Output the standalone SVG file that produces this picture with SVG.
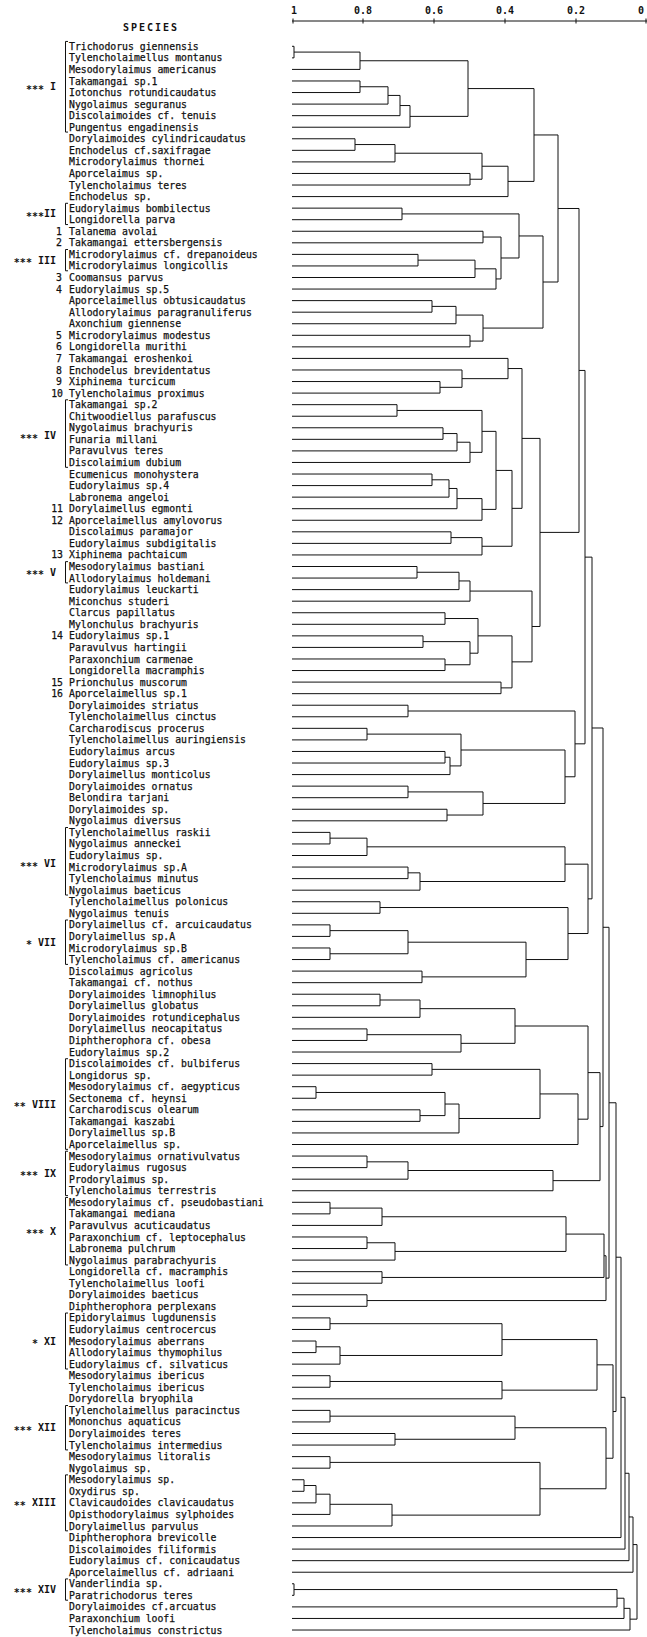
<svg xmlns="http://www.w3.org/2000/svg" width="647" height="1637" viewBox="0 0 647 1637">
<style>
.sp text{font-family:"DejaVu Sans Mono","Liberation Mono",monospace;font-size:9.8px;fill:#111;stroke:#111;stroke-width:0.25px}
.num{font-family:"Liberation Serif",serif;font-size:11px;fill:#111;text-anchor:end}
.grp text{font-family:"DejaVu Sans Mono","Liberation Mono",monospace;font-weight:bold;font-size:10px;fill:#111;text-anchor:end}
.br{fill:none;stroke:#111;stroke-width:1;vector-effect:non-scaling-stroke}
.ax{font-family:"DejaVu Sans Mono","Liberation Mono",monospace;font-weight:bold;font-size:10px;fill:#111;text-anchor:middle}
#connectors path{fill:none;stroke:#111;stroke-width:1;vector-effect:non-scaling-stroke}
</style>
<rect width="647" height="1637" fill="#fff"/>
<g id="axis">
<text x="151" y="31" class="ax" font-size="12" letter-spacing="2">SPECIES</text>
<text class="ax" x="294" y="14">1</text>
<text class="ax" x="363" y="14">0.8</text>
<text class="ax" x="434" y="14">0.6</text>
<text class="ax" x="505" y="14">0.4</text>
<text class="ax" x="576" y="14">0.2</text>
<text class="ax" x="641" y="14">0</text>
<path d="M292 21H647M293 18.5V23.5M363 18.5V23.5M434 18.5V23.5M505 18.5V23.5M576 18.5V23.5M646 18.5V23.5" stroke="#111" stroke-width="1" fill="none"/>
</g>
<g id="groups">
<g id="gI" class="grp"><text x="56" y="90.3"><tspan dy="2.5">***</tspan><tspan dy="-2.5"> I</tspan></text><path class="br" transform="matrix(1 0 0 11.56 0 34.74)" d="M68 0.58H65.5V8.42H68"/></g>
<g id="gII" class="grp"><text x="56" y="217.4"><tspan dy="2.5">***</tspan><tspan dy="-2.5">II</tspan></text><path class="br" transform="matrix(1 0 0 11.56 0 34.74)" d="M68 14.58H65.5V16.42H68"/></g>
<g id="gIII" class="grp"><text x="56" y="263.7"><tspan dy="2.5">***</tspan><tspan dy="-2.5"> III</tspan></text><path class="br" transform="matrix(1 0 0 11.56 0 34.74)" d="M68 18.58H65.5V20.42H68"/></g>
<g id="gIV" class="grp"><text x="56" y="439.4"><tspan dy="2.5">***</tspan><tspan dy="-2.5"> IV</tspan></text><path class="br" transform="matrix(1 0 0 11.56 0 34.74)" d="M68 31.58H65.5V37.42H68"/></g>
<g id="gV" class="grp"><text x="56" y="575.8"><tspan dy="2.5">***</tspan><tspan dy="-2.5">  V</tspan></text><path class="br" transform="matrix(1 0 0 11.56 0 34.74)" d="M68 45.58H65.5V47.42H68"/></g>
<g id="gVI" class="grp"><text x="56" y="867.1"><tspan dy="2.5">***</tspan><tspan dy="-2.5"> VI</tspan></text><path class="br" transform="matrix(1 0 0 11.56 0 34.74)" d="M68 68.58H65.5V74.42H68"/></g>
<g id="gVII" class="grp"><text x="56" y="945.7"><tspan dy="2.5">*</tspan><tspan dy="-2.5"> VII</tspan></text><path class="br" transform="matrix(1 0 0 11.56 0 34.74)" d="M68 76.58H65.5V80.42H68"/></g>
<g id="gVIII" class="grp"><text x="56" y="1107.5"><tspan dy="2.5">**</tspan><tspan dy="-2.5"> VIII</tspan></text><path class="br" transform="matrix(1 0 0 11.56 0 34.74)" d="M68 88.58H65.5V96.42H68"/></g>
<g id="gIX" class="grp"><text x="56" y="1176.9"><tspan dy="2.5">***</tspan><tspan dy="-2.5"> IX</tspan></text><path class="br" transform="matrix(1 0 0 11.56 0 34.74)" d="M68 96.58H65.5V100.42H68"/></g>
<g id="gX" class="grp"><text x="56" y="1234.7"><tspan dy="2.5">***</tspan><tspan dy="-2.5"> X</tspan></text><path class="br" transform="matrix(1 0 0 11.56 0 34.74)" d="M68 100.58H65.5V106.42H68"/></g>
<g id="gXI" class="grp"><text x="56" y="1344.5"><tspan dy="2.5">*</tspan><tspan dy="-2.5"> XI</tspan></text><path class="br" transform="matrix(1 0 0 11.56 0 34.74)" d="M68 110.58H65.5V115.42H68"/></g>
<g id="gXII" class="grp"><text x="56" y="1431.2"><tspan dy="2.5">***</tspan><tspan dy="-2.5"> XII</tspan></text><path class="br" transform="matrix(1 0 0 11.56 0 34.74)" d="M68 118.58H65.5V122.42H68"/></g>
<g id="gXIII" class="grp"><text x="56" y="1506.4"><tspan dy="2.5">**</tspan><tspan dy="-2.5"> XIII</tspan></text><path class="br" transform="matrix(1 0 0 11.56 0 34.74)" d="M68 124.58H65.5V129.42H68"/></g>
<g id="gXIV" class="grp"><text x="56" y="1593.1"><tspan dy="2.5">***</tspan><tspan dy="-2.5"> XIV</tspan></text><path class="br" transform="matrix(1 0 0 11.56 0 34.74)" d="M68 133.58H65.5V135.42H68"/></g>
</g>
<g class="sp">
<g id="n1"><text x="69" y="49.8">Trichodorus giennensis</text></g>
<g id="n2"><text x="69" y="61.4">Tylencholaimellus montanus</text></g>
<g id="n3"><text x="69" y="72.9">Mesodorylaimus americanus</text></g>
<g id="n4"><text x="69" y="84.5">Takamangai sp.1</text></g>
<g id="n5"><text x="69" y="96.0">Iotonchus rotundicaudatus</text></g>
<g id="n6"><text x="69" y="107.6">Nygolaimus seguranus</text></g>
<g id="n7"><text x="69" y="119.2">Discolaimoides cf. tenuis</text></g>
<g id="n8"><text x="69" y="130.7">Pungentus engadinensis</text></g>
<g id="n9"><text x="69" y="142.3">Dorylaimoides cylindricaudatus</text></g>
<g id="n10"><text x="69" y="153.8">Enchodelus cf.saxifragae</text></g>
<g id="n11"><text x="69" y="165.4">Microdorylaimus thornei</text></g>
<g id="n12"><text x="69" y="177.0">Aporcelaimus sp.</text></g>
<g id="n13"><text x="69" y="188.5">Tylencholaimus teres</text></g>
<g id="n14"><text x="69" y="200.1">Enchodelus sp.</text></g>
<g id="n15"><text x="69" y="211.6">Eudorylaimus bombilectus</text></g>
<g id="n16"><text x="69" y="223.2">Longidorella parva</text></g>
<g id="n17"><text class="num" x="62" y="234.8">1</text><text x="69" y="234.8">Talanema avolai</text></g>
<g id="n18"><text class="num" x="62" y="246.3">2</text><text x="69" y="246.3">Takamangai ettersbergensis</text></g>
<g id="n19"><text x="69" y="257.9">Microdorylaimus cf. drepanoideus</text></g>
<g id="n20"><text x="69" y="269.4">Microdorylaimus longicollis</text></g>
<g id="n21"><text class="num" x="62" y="281.0">3</text><text x="69" y="281.0">Coomansus parvus</text></g>
<g id="n22"><text class="num" x="62" y="292.6">4</text><text x="69" y="292.6">Eudorylaimus sp.5</text></g>
<g id="n23"><text x="69" y="304.1">Aporcelaimellus obtusicaudatus</text></g>
<g id="n24"><text x="69" y="315.7">Allodorylaimus paragranuliferus</text></g>
<g id="n25"><text x="69" y="327.2">Axonchium giennense</text></g>
<g id="n26"><text class="num" x="62" y="338.8">5</text><text x="69" y="338.8">Microdorylaimus modestus</text></g>
<g id="n27"><text class="num" x="62" y="350.4">6</text><text x="69" y="350.4">Longidorella murithi</text></g>
<g id="n28"><text class="num" x="62" y="361.9">7</text><text x="69" y="361.9">Takamangai eroshenkoi</text></g>
<g id="n29"><text class="num" x="62" y="373.5">8</text><text x="69" y="373.5">Enchodelus brevidentatus</text></g>
<g id="n30"><text class="num" x="62" y="385.0">9</text><text x="69" y="385.0">Xiphinema turcicum</text></g>
<g id="n31"><text class="num" x="63" y="396.6">10</text><text x="69" y="396.6">Tylencholaimus proximus</text></g>
<g id="n32"><text x="69" y="408.2">Takamangai sp.2</text></g>
<g id="n33"><text x="69" y="419.7">Chitwoodiellus parafuscus</text></g>
<g id="n34"><text x="69" y="431.3">Nygolaimus brachyuris</text></g>
<g id="n35"><text x="69" y="442.8">Funaria millani</text></g>
<g id="n36"><text x="69" y="454.4">Paravulvus teres</text></g>
<g id="n37"><text x="69" y="466.0">Discolaimium dubium</text></g>
<g id="n38"><text x="69" y="477.5">Ecumenicus monohystera</text></g>
<g id="n39"><text x="69" y="489.1">Eudorylaimus sp.4</text></g>
<g id="n40"><text x="69" y="500.6">Labronema angeloi</text></g>
<g id="n41"><text class="num" x="63" y="512.2">11</text><text x="69" y="512.2">Dorylaimellus egmonti</text></g>
<g id="n42"><text class="num" x="63" y="523.8">12</text><text x="69" y="523.8">Aporcelaimellus amylovorus</text></g>
<g id="n43"><text x="69" y="535.3">Discolaimus paramajor</text></g>
<g id="n44"><text x="69" y="546.9">Eudorylaimus subdigitalis</text></g>
<g id="n45"><text class="num" x="63" y="558.4">13</text><text x="69" y="558.4">Xiphinema pachtaicum</text></g>
<g id="n46"><text x="69" y="570.0">Mesodorylaimus bastiani</text></g>
<g id="n47"><text x="69" y="581.6">Allodorylaimus holdemani</text></g>
<g id="n48"><text x="69" y="593.1">Eudorylaimus leuckarti</text></g>
<g id="n49"><text x="69" y="604.7">Miconchus studeri</text></g>
<g id="n50"><text x="69" y="616.2">Clarcus papillatus</text></g>
<g id="n51"><text x="69" y="627.8">Mylonchulus brachyuris</text></g>
<g id="n52"><text class="num" x="63" y="639.4">14</text><text x="69" y="639.4">Eudorylaimus sp.1</text></g>
<g id="n53"><text x="69" y="650.9">Paravulvus hartingii</text></g>
<g id="n54"><text x="69" y="662.5">Paraxonchium carmenae</text></g>
<g id="n55"><text x="69" y="674.0">Longidorella macramphis</text></g>
<g id="n56"><text class="num" x="63" y="685.6">15</text><text x="69" y="685.6">Prionchulus muscorum</text></g>
<g id="n57"><text class="num" x="63" y="697.2">16</text><text x="69" y="697.2">Aporcelaimellus sp.1</text></g>
<g id="n58"><text x="69" y="708.7">Dorylaimoides striatus</text></g>
<g id="n59"><text x="69" y="720.3">Tylencholaimellus cinctus</text></g>
<g id="n60"><text x="69" y="731.8">Carcharodiscus procerus</text></g>
<g id="n61"><text x="69" y="743.4">Tylencholaimellus auringiensis</text></g>
<g id="n62"><text x="69" y="755.0">Eudorylaimus arcus</text></g>
<g id="n63"><text x="69" y="766.5">Eudorylaimus sp.3</text></g>
<g id="n64"><text x="69" y="778.1">Dorylaimellus monticolus</text></g>
<g id="n65"><text x="69" y="789.6">Dorylaimoides ornatus</text></g>
<g id="n66"><text x="69" y="801.2">Belondira tarjani</text></g>
<g id="n67"><text x="69" y="812.8">Dorylaimoides sp.</text></g>
<g id="n68"><text x="69" y="824.3">Nygolaimus diversus</text></g>
<g id="n69"><text x="69" y="835.9">Tylencholaimellus raskii</text></g>
<g id="n70"><text x="69" y="847.4">Nygolaimus anneckei</text></g>
<g id="n71"><text x="69" y="859.0">Eudorylaimus sp.</text></g>
<g id="n72"><text x="69" y="870.6">Microdorylaimus sp.A</text></g>
<g id="n73"><text x="69" y="882.1">Tylencholaimus minutus</text></g>
<g id="n74"><text x="69" y="893.7">Nygolaimus baeticus</text></g>
<g id="n75"><text x="69" y="905.2">Tylencholaimellus polonicus</text></g>
<g id="n76"><text x="69" y="916.8">Nygolaimus tenuis</text></g>
<g id="n77"><text x="69" y="928.4">Dorylaimellus cf. arcuicaudatus</text></g>
<g id="n78"><text x="69" y="939.9">Dorylaimellus sp.A</text></g>
<g id="n79"><text x="69" y="951.5">Microdorylaimus sp.B</text></g>
<g id="n80"><text x="69" y="963.0">Tylencholaimus cf. americanus</text></g>
<g id="n81"><text x="69" y="974.6">Discolaimus agricolus</text></g>
<g id="n82"><text x="69" y="986.2">Takamangai cf. nothus</text></g>
<g id="n83"><text x="69" y="997.7">Dorylaimoides limnophilus</text></g>
<g id="n84"><text x="69" y="1009.3">Dorylaimellus globatus</text></g>
<g id="n85"><text x="69" y="1020.8">Dorylaimoides rotundicephalus</text></g>
<g id="n86"><text x="69" y="1032.4">Dorylaimellus neocapitatus</text></g>
<g id="n87"><text x="69" y="1044.0">Diphtherophora cf. obesa</text></g>
<g id="n88"><text x="69" y="1055.5">Eudorylaimus sp.2</text></g>
<g id="n89"><text x="69" y="1067.1">Discolaimoides cf. bulbiferus</text></g>
<g id="n90"><text x="69" y="1078.6">Longidorus sp.</text></g>
<g id="n91"><text x="69" y="1090.2">Mesodorylaimus cf. aegypticus</text></g>
<g id="n92"><text x="69" y="1101.8">Sectonema cf. heynsi</text></g>
<g id="n93"><text x="69" y="1113.3">Carcharodiscus olearum</text></g>
<g id="n94"><text x="69" y="1124.9">Takamangai kaszabi</text></g>
<g id="n95"><text x="69" y="1136.4">Dorylaimellus sp.B</text></g>
<g id="n96"><text x="69" y="1148.0">Aporcelaimellus sp.</text></g>
<g id="n97"><text x="69" y="1159.6">Mesodorylaimus ornativulvatus</text></g>
<g id="n98"><text x="69" y="1171.1">Eudorylaimus rugosus</text></g>
<g id="n99"><text x="69" y="1182.7">Prodorylaimus sp.</text></g>
<g id="n100"><text x="69" y="1194.2">Tylencholaimus terrestris</text></g>
<g id="n101"><text x="69" y="1205.8">Mesodorylaimus cf. pseudobastiani</text></g>
<g id="n102"><text x="69" y="1217.4">Takamangai mediana</text></g>
<g id="n103"><text x="69" y="1228.9">Paravulvus acuticaudatus</text></g>
<g id="n104"><text x="69" y="1240.5">Paraxonchium cf. leptocephalus</text></g>
<g id="n105"><text x="69" y="1252.0">Labronema pulchrum</text></g>
<g id="n106"><text x="69" y="1263.6">Nygolaimus parabrachyuris</text></g>
<g id="n107"><text x="69" y="1275.2">Longidorella cf. macramphis</text></g>
<g id="n108"><text x="69" y="1286.7">Tylencholaimellus loofi</text></g>
<g id="n109"><text x="69" y="1298.3">Dorylaimoides baeticus</text></g>
<g id="n110"><text x="69" y="1309.8">Diphtherophora perplexans</text></g>
<g id="n111"><text x="69" y="1321.4">Epidorylaimus lugdunensis</text></g>
<g id="n112"><text x="69" y="1333.0">Eudorylaimus centrocercus</text></g>
<g id="n113"><text x="69" y="1344.5">Mesodorylaimus aberrans</text></g>
<g id="n114"><text x="69" y="1356.1">Allodorylaimus thymophilus</text></g>
<g id="n115"><text x="69" y="1367.6">Eudorylaimus cf. silvaticus</text></g>
<g id="n116"><text x="69" y="1379.2">Mesodorylaimus ibericus</text></g>
<g id="n117"><text x="69" y="1390.8">Tylencholaimus ibericus</text></g>
<g id="n118"><text x="69" y="1402.3">Dorydorella bryophila</text></g>
<g id="n119"><text x="69" y="1413.9">Tylencholaimellus paracinctus</text></g>
<g id="n120"><text x="69" y="1425.4">Mononchus aquaticus</text></g>
<g id="n121"><text x="69" y="1437.0">Dorylaimoides teres</text></g>
<g id="n122"><text x="69" y="1448.6">Tylencholaimus intermedius</text></g>
<g id="n123"><text x="69" y="1460.1">Mesodorylaimus litoralis</text></g>
<g id="n124"><text x="69" y="1471.7">Nygolaimus sp.</text></g>
<g id="n125"><text x="69" y="1483.2">Mesodorylaimus sp.</text></g>
<g id="n126"><text x="69" y="1494.8">Oxydirus sp.</text></g>
<g id="n127"><text x="69" y="1506.4">Clavicaudoides clavicaudatus</text></g>
<g id="n128"><text x="69" y="1517.9">Opisthodorylaimus sylphoides</text></g>
<g id="n129"><text x="69" y="1529.5">Dorylaimellus parvulus</text></g>
<g id="n130"><text x="69" y="1541.0">Diphtherophora brevicolle</text></g>
<g id="n131"><text x="69" y="1552.6">Discolaimoides filiformis</text></g>
<g id="n132"><text x="69" y="1564.2">Eudorylaimus cf. conicaudatus</text></g>
<g id="n133"><text x="69" y="1575.7">Aporcelaimellus cf. adriaani</text></g>
<g id="n134"><text x="69" y="1587.3">Vanderlindia sp.</text></g>
<g id="n135"><text x="69" y="1598.8">Paratrichodorus teres</text></g>
<g id="n136"><text x="69" y="1610.4">Dorylaimoides cf.arcuatus</text></g>
<g id="n137"><text x="69" y="1622.0">Paraxonchium loofi</text></g>
<g id="n138"><text x="69" y="1633.5">Tylencholaimus constrictus</text></g>
</g>
<g id="connectors" transform="matrix(1 0 0 11.56 0 34.74)">
<path d="M292 1H294V2H292"/>
<path d="M294 1.5H360V3H292"/>
<path d="M292 4H360V5H292"/>
<path d="M360 4.5H388V6H292"/>
<path d="M388 5.25H400V7H292"/>
<path d="M400 6.125H410V8H292"/>
<path d="M360 2.25H468V7.0625H410"/>
<path d="M292 9H355V10H292"/>
<path d="M355 9.5H395V11H292"/>
<path d="M292 12H470V13H292"/>
<path d="M395 10.25H482V12.5H470"/>
<path d="M482 11.375H508V14H292"/>
<path d="M468 4.656H534V12.6875H508"/>
<path d="M292 15H402V16H292"/>
<path d="M292 17H483V18H292"/>
<path d="M292 19H418V20H292"/>
<path d="M418 19.5H475V21H292"/>
<path d="M475 20.25H496V22H292"/>
<path d="M483 17.5H501V21.125H496"/>
<path d="M402 15.5H519V19.3125H501"/>
<path d="M292 23H432V24H292"/>
<path d="M432 23.5H456V25H292"/>
<path d="M292 26H470V27H292"/>
<path d="M456 24.25H483V26.5H470"/>
<path d="M519 17.406H543V25.375H483"/>
<path d="M534 8.67H558V21.39H543"/>
<path d="M292 30H440V31H292"/>
<path d="M292 29H462V30.5H440"/>
<path d="M292 28H508V29.75H462"/>
<path d="M292 32H397V33H292"/>
<path d="M292 34H443V35H292"/>
<path d="M443 34.5H457V36H292"/>
<path d="M457 35.25H470V37H292"/>
<path d="M397 32.5H482V36.125H470"/>
<path d="M292 38H432V39H292"/>
<path d="M432 38.5H449V40H292"/>
<path d="M449 39.25H457V41H292"/>
<path d="M457 40.125H482V42H292"/>
<path d="M482 34.31H496V41.06H482"/>
<path d="M292 43H451V44H292"/>
<path d="M451 43.5H482V45H292"/>
<path d="M496 37.69H512V44.25H482"/>
<path d="M508 28.875H522V40.97H512"/>
<path d="M292 46H417V47H292"/>
<path d="M417 46.5H459V48H292"/>
<path d="M459 47.25H470V49H292"/>
<path d="M292 50H445V51H292"/>
<path d="M292 52H423V53H292"/>
<path d="M292 54H445V55H292"/>
<path d="M423 52.5H470V54.5H445"/>
<path d="M445 50.5H478V53.5H470"/>
<path d="M292 56H501V57H292"/>
<path d="M478 52H512V56.5H501"/>
<path d="M470 48.125H532V54.25H512"/>
<path d="M522 34.92H540V51.19H532"/>
<path d="M558 15.03H579V43.05H540"/>
<path d="M292 58H408V59H292"/>
<path d="M292 60H367V61H292"/>
<path d="M292 62H445V63H292"/>
<path d="M445 62.5H450V64H292"/>
<path d="M367 60.5H461V63.25H450"/>
<path d="M292 65H408V66H292"/>
<path d="M292 67H447V68H292"/>
<path d="M408 65.5H483V67.5H447"/>
<path d="M461 61.875H565V66.5H483"/>
<path d="M408 58.5H575V64.19H565"/>
<path d="M579 29.04H585V61.34H575"/>
<path d="M292 69H330V70H292"/>
<path d="M330 69.5H367V71H292"/>
<path d="M292 72H408V73H292"/>
<path d="M408 72.5H420V74H292"/>
<path d="M367 70.25H565V73.25H420"/>
<path d="M292 75H380V76H292"/>
<path d="M292 77H330V78H292"/>
<path d="M292 79H330V80H292"/>
<path d="M330 77.5H408V79.5H330"/>
<path d="M292 81H422V82H292"/>
<path d="M408 78.5H526V81.5H422"/>
<path d="M380 75.5H568V80H526"/>
<path d="M565 71.75H588V77.75H568"/>
<path d="M585 45.19H592V74.75H588"/>
<path d="M292 83H380V84H292"/>
<path d="M380 83.5H420V85H292"/>
<path d="M292 86H367V87H292"/>
<path d="M367 86.5H461V88H292"/>
<path d="M420 84.25H515V87.25H461"/>
<path d="M292 89H432V90H292"/>
<path d="M292 91H316V92H292"/>
<path d="M292 93H420V94H292"/>
<path d="M316 91.5H445V93.5H420"/>
<path d="M445 92.5H459V95H292"/>
<path d="M432 89.5H540V93.75H459"/>
<path d="M540 91.625H578V96H292"/>
<path d="M515 85.75H588V93.81H578"/>
<path d="M292 97H367V98H292"/>
<path d="M367 97.5H408V99H292"/>
<path d="M408 98.25H553V100H292"/>
<path d="M588 89.78H600V99.125H553"/>
<path d="M592 59.97H603V94.45H600"/>
<path d="M292 101H330V102H292"/>
<path d="M330 101.5H382V103H292"/>
<path d="M292 104H367V105H292"/>
<path d="M367 104.5H395V106H292"/>
<path d="M382 102.25H566V105.25H395"/>
<path d="M292 107H382V108H292"/>
<path d="M566 103.75H604V107.5H382"/>
<path d="M292 109H367V110H292"/>
<path d="M604 105.625H606V109.5H367"/>
<path d="M603 77.21H609V107.56H606"/>
<path d="M292 111H330V112H292"/>
<path d="M292 113H316V114H292"/>
<path d="M316 113.5H340V115H292"/>
<path d="M330 111.5H502V114.25H340"/>
<path d="M292 116H330V117H292"/>
<path d="M330 116.5H502V118H292"/>
<path d="M502 112.875H597V117.25H502"/>
<path d="M292 119H330V120H292"/>
<path d="M292 121H395V122H292"/>
<path d="M330 119.5H515V121.5H395"/>
<path d="M292 123H330V124H292"/>
<path d="M292 125H304V126H292"/>
<path d="M304 125.5H316V127H292"/>
<path d="M316 126.25H330V128H292"/>
<path d="M330 127.125H392V129H292"/>
<path d="M330 123.5H540V128.06H392"/>
<path d="M515 120.5H606V125.78H540"/>
<path d="M597 115.06H613V123.14H606"/>
<path d="M609 92.39H616V119.1H613"/>
<path d="M616 105.75H621V130H292"/>
<path d="M621 117.87H625V131H292"/>
<path d="M625 124.44H629V132H292"/>
<path d="M629 128.22H633V133H292"/>
<path d="M292 134H294V135H292"/>
<path d="M294 134.5H617V136H292"/>
<path d="M617 135.25H624V137H292"/>
<path d="M624 136.125H630V138H292"/>
<path d="M633 130.61H637V137.06H630"/>
</g>
</svg>
